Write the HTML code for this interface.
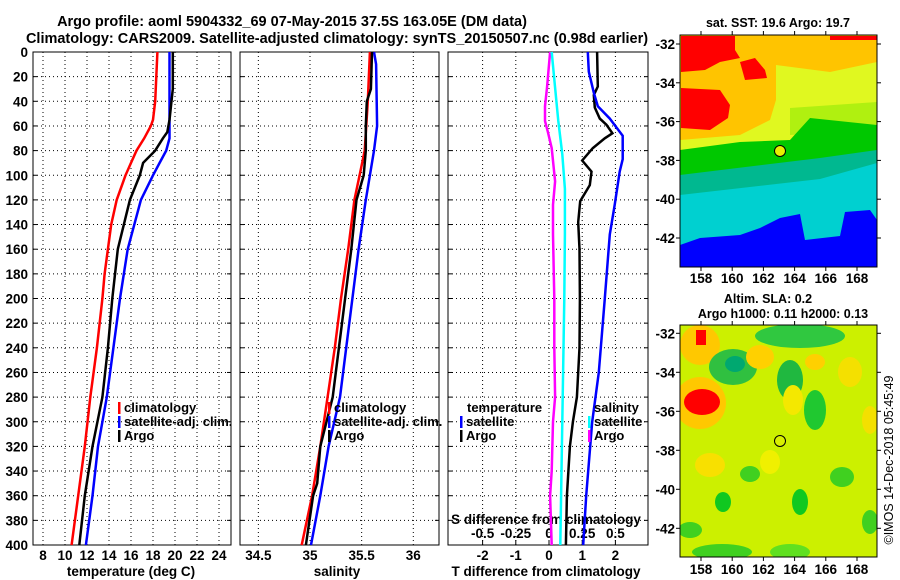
<!DOCTYPE html>
<html><head><meta charset="utf-8">
<style>
html,body{margin:0;padding:0;background:#fff;}
svg{display:block;font-family:"Liberation Sans",sans-serif;font-weight:bold;}
</style></head>
<body>
<svg id="chart" width="900" height="580" viewBox="0 0 900 580" xmlns="http://www.w3.org/2000/svg">
<rect width="900" height="580" fill="#fff"/>
<text x="292" y="26" font-size="14.5" text-anchor="middle">Argo profile: aoml 5904332_69 07-May-2015 37.5S 163.05E (DM data)</text>
<text x="337" y="43" font-size="14.5" text-anchor="middle">Climatology: CARS2009. Satellite-adjusted climatology: synTS_20150507.nc (0.98d earlier)</text>

<!-- Map 1 -->
<g>
<text x="778" y="27" font-size="12.5" text-anchor="middle">sat. SST: 19.6 Argo: 19.7</text>
<svg x="680" y="35" width="197" height="232" viewBox="680 35 197 232" overflow="hidden">
<rect x="680" y="35" width="197" height="232" fill="#ffc400"/>
<polygon fill="#ff0000" points="681,36 735,36 735,50 740,58 720,62 705,70 681,72"/>
<polygon fill="#ff0000" points="681,88 720,90 730,105 728,118 710,130 681,128"/>
<polygon fill="#ff0000" points="740,62 755,58 765,70 767,78 745,80"/>
<rect x="830" y="36" width="47" height="4" fill="#ff0000"/>
<polygon fill="#e0f820" points="776,65 830,72 877,62 877,125 800,128 790,140 680,150 680,140 740,135 770,120 776,100"/>
<polygon fill="#b0f010" points="790,108 877,102 877,130 790,135"/>
<polygon fill="#00c800" points="680,150 740,142 790,140 810,118 877,125 877,155 820,160 680,178"/>
<polygon fill="#00b890" points="680,175 820,158 877,150 877,166 820,182 680,198"/>
<polygon fill="#00d0d0" points="680,195 820,179 877,163 877,267 680,267"/>
<polygon fill="#0000ff" points="680,245 700,238 740,235 760,228 780,218 800,214 805,240 840,236 845,212 870,210 877,220 877,267 680,267"/>
<circle cx="780" cy="151" r="5.5" fill="#e8f000" stroke="#000" stroke-width="1"/>
</svg>
<rect x="680" y="35" width="197" height="232" fill="none" stroke="#000" stroke-width="1"/>
</g>

<!-- Map 2 -->
<g>
<text x="768" y="303" font-size="12.5" text-anchor="middle">Altim. SLA: 0.2</text>
<text x="783" y="318" font-size="12.5" text-anchor="middle">Argo h1000: 0.11 h2000: 0.13</text>
<svg x="680" y="325" width="197" height="232" viewBox="680 325 197 232" overflow="hidden">
<rect x="680" y="325" width="197" height="232" fill="#ccf000"/>
<ellipse cx="700" cy="345" rx="20" ry="20" fill="#ffc800"/>
<rect x="696" y="330" width="10" height="15" fill="#ff0000"/>
<ellipse cx="700" cy="403" rx="26" ry="26" fill="#ffc800"/>
<ellipse cx="702" cy="402" rx="18" ry="13" fill="#ff0000"/>
<ellipse cx="733" cy="367" rx="24" ry="18" fill="#30c040"/>
<ellipse cx="735" cy="364" rx="10" ry="8" fill="#00a870"/>
<ellipse cx="800" cy="336" rx="45" ry="12" fill="#30c840"/>
<ellipse cx="790" cy="380" rx="13" ry="20" fill="#20b840"/>
<ellipse cx="815" cy="410" rx="11" ry="20" fill="#20c830"/>
<ellipse cx="760" cy="357" rx="14" ry="12" fill="#ffd000"/>
<ellipse cx="793" cy="400" rx="10" ry="15" fill="#f4e800"/>
<ellipse cx="815" cy="362" rx="10" ry="8" fill="#ffd000"/>
<ellipse cx="850" cy="372" rx="12" ry="15" fill="#f4e000"/>
<ellipse cx="870" cy="420" rx="8" ry="14" fill="#f4e000"/>
<ellipse cx="710" cy="465" rx="15" ry="12" fill="#f8e000"/>
<ellipse cx="770" cy="462" rx="10" ry="12" fill="#f0f000"/>
<ellipse cx="750" cy="474" rx="10" ry="8" fill="#40d020"/>
<ellipse cx="723" cy="502" rx="8" ry="10" fill="#10c820"/>
<ellipse cx="800" cy="502" rx="8" ry="13" fill="#10c820"/>
<ellipse cx="842" cy="477" rx="12" ry="10" fill="#40d020"/>
<ellipse cx="870" cy="522" rx="8" ry="12" fill="#40d020"/>
<ellipse cx="722" cy="552" rx="30" ry="8" fill="#40d020"/>
<ellipse cx="790" cy="552" rx="20" ry="8" fill="#60e020"/>
<ellipse cx="690" cy="530" rx="12" ry="8" fill="#40d020"/>
<circle cx="780" cy="441" r="5.5" fill="#d8f000" stroke="#000" stroke-width="1"/>
</svg>
<rect x="680" y="325" width="197" height="232" fill="none" stroke="#000" stroke-width="1"/>
</g>
<text transform="translate(893,460) rotate(-90)" font-size="12.5" font-weight="normal" text-anchor="middle">©IMOS 14-Dec-2018 05:45:49</text>
<g id="dyn"></g>
</svg>
<script>
// ===== data =====
const depthTicks = [0,20,40,60,80,100,120,140,160,180,200,220,240,260,280,300,320,340,360,380,400];
const tempTicks = [8,10,12,14,16,18,20,22,24];
const salTicks = [34.5,35,35.5,36];
const tdiffTicks = [-2,-1,0,1,2];
const sdiffTicks = [-0.5,-0.25,0,0.25,0.5];
const sdiffTickLabels = ["-0.5","-0.25","0","0.25","0.5"];
const mapLonTicks = [158,160,162,164,166,168];
const mapLatTicks = [-32,-34,-36,-38,-40,-42];

const tClimDepth = [0,20,40,55,60,70,80,90,100,120,140,160,180,200,240,280,320,360,400];
const tClimVal   = [18.4,18.3,18.2,18.0,17.8,17.2,16.5,16.0,15.5,14.7,14.2,13.9,13.6,13.4,12.9,12.3,11.8,11.2,10.6];
const tArgoDepth = [0,30,55,65,70,80,90,100,120,160,200,240,280,320,360,400];
const tArgoVal   = [19.8,19.8,19.5,19.3,18.9,18.2,17.1,16.8,15.9,14.8,14.3,13.9,13.4,12.5,11.8,11.3];
const tSatDepth  = [0,40,70,80,90,100,120,160,200,240,280,320,360,400];
const tSatVal    = [19.5,19.5,19.5,19.2,18.6,18.0,16.9,15.7,15.0,14.4,13.8,13.0,12.5,11.9];

const sClimDepth = [0,40,80,100,120,160,200,240,280,320,360,400];
const sClimVal   = [35.58,35.56,35.53,35.48,35.43,35.37,35.30,35.24,35.17,35.10,35.02,34.92];
const sArgoDepth = [0,30,40,60,80,100,120,160,200,240,280,320,350,360,400];
const sArgoVal   = [35.60,35.59,35.55,35.54,35.54,35.52,35.45,35.40,35.34,35.28,35.22,35.10,35.07,35.03,34.96];
const sSatDepth  = [0,10,60,80,100,120,160,200,240,280,320,360,400];
const sSatVal    = [35.62,35.64,35.65,35.62,35.58,35.54,35.47,35.41,35.35,35.29,35.18,35.10,35.01];

const dtArgoDepth = [0,28,35,45,54,59,66,70,78,88,97,108,121,138,160,200,240,280,300,320,360,400];
const dtArgoVal   = [1.45,1.47,1.35,1.38,1.53,1.73,1.91,1.68,1.32,1.0,1.28,1.23,0.94,0.88,0.92,0.93,0.92,0.84,0.72,0.63,0.54,0.51];
const dtSatDepth  = [0,16,33,44,54,68,87,97,124,148,200,260,300,360,400];
const dtSatVal    = [1.17,1.2,1.35,1.47,1.83,2.22,2.22,2.13,1.98,1.83,1.68,1.5,1.3,1.12,1.03];
const dsSatDepth  = [0,29,56,83,111,148,200,280,300,400];
const dsSatVal    = [0.02,0.046,0.07,0.1,0.12,0.12,0.115,0.103,0.1,0.085];
const dsArgoDepth = [0,29,44,56,65,78,105,124,148,200,240,280,300,340,360,400];
const dsArgoVal   = [0.008,-0.015,-0.03,-0.03,-0.008,0.02,0.046,0.03,0.03,0.04,0.04,0.046,0.03,0.02,0.008,0.02];

// ===== axes =====
const TOP=52, BOT=545;
const yD = d => TOP + d*(BOT-TOP)/400;
const xT = t => 43 + (t-8)*11;
const xS = s => 310 + (s-35)*103.3;
const xDT = v => 549 + v*33.2;
const xDS = v => 549 + v*132.8;
const panels = [{x:33,w:198,name:'temperature-panel'},{x:240,w:199,name:'salinity-panel'},{x:448,w:200,name:'difference-panel'}];
const mapLonX = lon => 701 + (lon-158)*15.6;
const map1LatY = lat => 44 + (-lat-32)*19.4;
const map2LatY = lat => 333.3 + (-lat-32)*19.5;

const NS='http://www.w3.org/2000/svg';
const root=document.getElementById('dyn');
const FS=13.5;
function mk(tag, attrs, parent){const e=document.createElementNS(NS,tag);for(const k in attrs)e.setAttribute(k,attrs[k]);(parent||root).appendChild(e);return e;}
function txt(s,x,y,anchor,size){const e=mk('text',{x:x,y:y,'text-anchor':anchor,'font-size':size});e.textContent=s;return e;}
function series(depths, vals, xf, color, w, name){
  const pts = depths.map((d,i)=>xf(vals[i]).toFixed(1)+','+yD(d).toFixed(1)).join(' ');
  const p=mk('polyline',{points:pts,fill:'none',stroke:color,'stroke-width':w,'stroke-linejoin':'miter'});
  
  
}

panels.forEach(p=>{
  const g=mk('g',{});
  
  
  depthTicks.forEach(d=>{ if(d>0&&d<400){ mk('line',{x1:p.x,x2:p.x+p.w,y1:yD(d),y2:yD(d),stroke:'#000','stroke-dasharray':'1,3','stroke-width':1},g);}
    mk('line',{x1:p.x,x2:p.x+4,y1:yD(d),y2:yD(d),stroke:'#000'},g);
    mk('line',{x1:p.x+p.w-4,x2:p.x+p.w,y1:yD(d),y2:yD(d),stroke:'#000'},g);});
});
tempTicks.forEach(t=>mk('line',{x1:xT(t),x2:xT(t),y1:TOP,y2:BOT,stroke:'#000','stroke-dasharray':'1,3'}));
salTicks.forEach(t=>mk('line',{x1:xS(t),x2:xS(t),y1:TOP,y2:BOT,stroke:'#000','stroke-dasharray':'1,3'}));
tdiffTicks.forEach(t=>mk('line',{x1:xDT(t),x2:xDT(t),y1:TOP,y2:BOT,stroke:'#000','stroke-dasharray':'1,3'}));
sdiffTicks.forEach(t=>mk('line',{x1:xDS(t),x2:xDS(t),y1:BOT-5,y2:BOT,stroke:'#000'}));
panels.forEach(p=>mk('rect',{x:p.x,y:TOP,width:p.w,height:BOT-TOP,fill:'none',stroke:'#000','stroke-width':1}));

depthTicks.forEach(d=>{const e=txt(String(d),28,yD(d)+5,'end',FS);
  
  });
tempTicks.forEach(t=>{const e=txt(String(t),xT(t),560,'middle',FS);
  
  });
salTicks.forEach(t=>{const e=txt(String(t),xS(t),560,'middle',FS);
  
  });
tdiffTicks.forEach(t=>{const e=txt(String(t),xDT(t),560,'middle',FS);
  
  });
sdiffTicks.forEach((t,i)=>{const e=txt(sdiffTickLabels[i],xDS(t),538,'middle',FS);
  
  });
let e;
e=txt('temperature (deg C)',131,576,'middle',FS);


e=txt('salinity',337,576,'middle',FS);


e=txt('T difference from climatology',546,576,'middle',FS);


e=txt('S difference from climatology',546,524,'middle',FS);



series(tClimDepth,tClimVal,xT,'#ff0000',2.5,'temp-climatology-line');
series(tSatDepth,tSatVal,xT,'#0000ff',2.5,'temp-satellite-line');
series(tArgoDepth,tArgoVal,xT,'#000000',2.5,'temp-argo-line');
series(sClimDepth,sClimVal,xS,'#ff0000',2.5,'sal-climatology-line');
series(sSatDepth,sSatVal,xS,'#0000ff',2.5,'sal-satellite-line');
series(sArgoDepth,sArgoVal,xS,'#000000',2.5,'sal-argo-line');
series(dsArgoDepth,dsArgoVal,xDS,'#ff00ff',2.5,'s-diff-argo-line');
series(dsSatDepth,dsSatVal,xDS,'#00ffff',2.5,'s-diff-satellite-line');
series(dtArgoDepth,dtArgoVal,xDT,'#000000',2.5,'t-diff-argo-line');
series(dtSatDepth,dtSatVal,xDT,'#0000ff',2.5,'t-diff-satellite-line');

function legend(x,y,color,label,name){
  const g=mk('g',{});
  
  
  mk('rect',{x:x,y:y-10,width:2.5,height:12,fill:color},g);
  const t=mk('text',{x:x+6,y:y,'font-size':13},g);t.textContent=label;
}
legend(118,412,'#ff0000','climatology','legend-climatology');
legend(118,426,'#0000ff','satellite-adj. clim.','legend-satellite-adj');
legend(118,440,'#000000','Argo','legend-argo');
legend(328,412,'#ff0000','climatology','legend-sal-climatology');
legend(328,426,'#0000ff','satellite-adj. clim.','legend-sal-satellite-adj');
legend(328,440,'#000000','Argo','legend-sal-argo');
e=txt('temperature',467,412,'start',13);


legend(460,426,'#0000ff','satellite','legend-t-satellite');
legend(460,440,'#000000','Argo','legend-t-argo');
e=txt('salinity',594,412,'start',13);


legend(588,426,'#00ffff','satellite','legend-s-satellite');
legend(588,440,'#ff00ff','Argo','legend-s-argo');

[[map1LatY,35,267,278],[map2LatY,325,557,569]].forEach(([ly,top,bot,lbY])=>{
  mapLonTicks.forEach(l=>{const x=mapLonX(l);
    mk('line',{x1:x,x2:x,y1:top,y2:top-4,stroke:'#000'});
    mk('line',{x1:x,x2:x,y1:bot,y2:bot+4,stroke:'#000'});
    const t=txt(String(l),x,lbY+5,'middle',FS);
    
    });
  mapLatTicks.forEach(l=>{const y=ly(l);
    mk('line',{x1:676,x2:680,y1:y,y2:y,stroke:'#000'});
    mk('line',{x1:877,x2:881,y1:y,y2:y,stroke:'#000'});
    const t=txt(String(l),675,y+5,'end',FS);
    
    });
});
</script>
</body></html>
